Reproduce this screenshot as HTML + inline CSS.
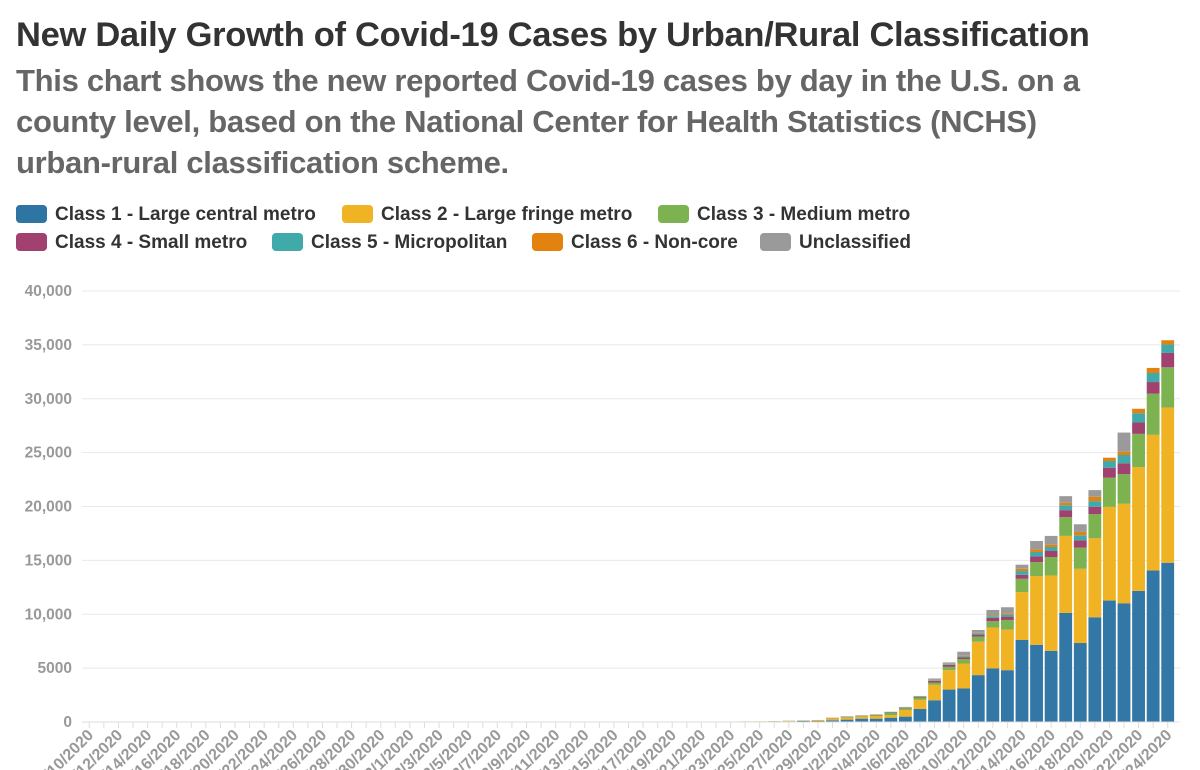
<!DOCTYPE html>
<html><head><meta charset="utf-8"><style>
body{margin:0;background:#fff;width:1200px;height:770px;overflow:hidden;font-family:"Liberation Sans",sans-serif}
#title{position:absolute;left:16px;top:16px;font-size:34.5px;font-weight:bold;color:#333;white-space:nowrap;letter-spacing:-0.3px}
#sub{position:absolute;left:16px;top:60px;font-size:31px;font-weight:bold;color:#666;line-height:41px;white-space:nowrap;letter-spacing:-0.3px}
.leg{position:absolute;font-size:19px;font-weight:bold;color:#333;white-space:nowrap}
.sw{display:inline-block;width:31px;height:18px;border-radius:4px;vertical-align:-3px;margin-right:8px}
</style></head><body>
<div id="title">New Daily Growth of Covid-19 Cases by Urban/Rural Classification</div>
<div id="sub">This chart shows the new reported Covid-19 cases by day in the U.S. on a<br>county level, based on the National Center for Health Statistics (NCHS)<br>urban-rural classification scheme.</div>
<div class="leg" style="left:16px;top:204px"><span class="sw" style="background:#2e75a3"></span>Class 1 - Large central metro</div>
<div class="leg" style="left:342px;top:204px"><span class="sw" style="background:#f0b323"></span>Class 2 - Large fringe metro</div>
<div class="leg" style="left:658px;top:204px"><span class="sw" style="background:#7cb24f"></span>Class 3 - Medium metro</div>
<div class="leg" style="left:16px;top:232px"><span class="sw" style="background:#a0416f"></span>Class 4 - Small metro</div>
<div class="leg" style="left:272px;top:232px"><span class="sw" style="background:#40aaaa"></span>Class 5 - Micropolitan</div>
<div class="leg" style="left:532px;top:232px"><span class="sw" style="background:#e4820f"></span>Class 6 - Non-core</div>
<div class="leg" style="left:760px;top:232px"><span class="sw" style="background:#9a9a9a"></span>Unclassified</div>
<svg id="chart" width="1200" height="770" style="position:absolute;left:0;top:0"></svg>
<script>
const categories=["1/10/2020","1/11/2020","1/12/2020","1/13/2020","1/14/2020","1/15/2020","1/16/2020","1/17/2020","1/18/2020","1/19/2020","1/20/2020","1/21/2020","1/22/2020","1/23/2020","1/24/2020","1/25/2020","1/26/2020","1/27/2020","1/28/2020","1/29/2020","1/30/2020","1/31/2020","2/1/2020","2/2/2020","2/3/2020","2/4/2020","2/5/2020","2/6/2020","2/7/2020","2/8/2020","2/9/2020","2/10/2020","2/11/2020","2/12/2020","2/13/2020","2/14/2020","2/15/2020","2/16/2020","2/17/2020","2/18/2020","2/19/2020","2/20/2020","2/21/2020","2/22/2020","2/23/2020","2/24/2020","2/25/2020","2/26/2020","2/27/2020","2/28/2020","2/29/2020","3/1/2020","3/2/2020","3/3/2020","3/4/2020","3/5/2020","3/6/2020","3/7/2020","3/8/2020","3/9/2020","3/10/2020","3/11/2020","3/12/2020","3/13/2020","3/14/2020","3/15/2020","3/16/2020","3/17/2020","3/18/2020","3/19/2020","3/20/2020","3/21/2020","3/22/2020","3/23/2020","3/24/2020"];
const class1=[0,0,0,0,0,0,0,0,0,0,0,1,0,1,1,0,1,0,0,0,1,1,1,1,0,0,0,0,0,0,0,0,1,0,0,0,0,0,0,0,30,30,30,30,40,50,50,60,60,100,90,155,220,310,310,400,500,1210,2020,3010,3110,4350,4970,4810,7610,7170,6610,10120,7330,9720,11270,11020,12170,14070,14780];
const class2=[0,0,0,0,0,0,0,0,0,0,0,0,0,0,0,0,0,0,0,0,0,0,0,0,0,0,0,0,0,0,0,0,0,0,0,0,0,0,0,0,0,0,5,5,10,10,15,20,40,30,100,155,180,190,250,250,620,840,1430,1800,2320,3100,3790,3760,4440,6370,6990,7150,6890,7330,8700,9230,11490,12580,14410];
const class3=[0,0,0,0,0,0,0,0,0,0,0,0,0,0,0,0,0,0,0,0,0,0,0,0,0,0,0,0,0,0,0,0,0,0,0,0,0,0,0,0,0,0,0,0,0,0,0,10,10,10,0,40,50,40,60,190,150,220,210,310,410,470,590,900,1240,1300,1710,1740,1960,2240,2700,2760,3080,3820,3730];
const class4=[0,0,0,0,0,0,0,0,0,0,0,0,0,0,0,0,0,0,0,0,0,0,0,0,0,0,0,0,0,0,0,0,0,0,0,0,0,0,0,0,0,0,0,0,0,0,0,0,5,5,0,20,30,30,30,30,30,50,160,190,150,190,310,310,370,530,560,650,680,680,930,990,1060,1080,1330];
const class5=[0,0,0,0,0,0,0,0,0,0,0,0,0,0,0,0,0,0,0,0,0,0,0,0,0,0,0,0,0,0,0,0,0,0,0,0,0,0,0,0,0,0,0,0,0,0,0,0,5,5,0,10,20,20,20,60,30,30,50,60,100,120,150,190,350,410,370,460,470,530,620,780,860,840,780];
const class6=[0,0,0,0,0,0,0,0,0,0,0,0,0,0,0,0,0,0,0,0,0,0,0,0,0,0,0,0,0,0,0,0,0,0,0,0,0,0,0,0,0,0,0,0,0,0,0,0,0,0,0,20,30,30,40,20,20,20,40,40,60,50,70,120,210,240,220,220,310,400,310,310,410,470,400];
const unclassified=[0,0,0,0,0,0,0,0,0,0,0,0,0,0,0,0,0,0,0,0,0,0,0,0,0,0,0,0,0,0,0,0,0,0,0,0,0,0,0,0,0,0,0,0,0,0,0,0,0,0,0,0,0,0,0,0,50,50,130,120,370,260,520,560,380,780,810,620,710,620,0,1770,0,0,0];
const yTicks=[0,5000,10000,15000,20000,25000,30000,35000,40000];
const yTickLabels=["0","5000","10,000","15,000","20,000","25,000","30,000","35,000","40,000"];
const series=[class1,class2,class3,class4,class5,class6,unclassified];
const seriesNames=["class-1","class-2","class-3","class-4","class-5","class-6","unclassified"];
const colors=["#3277a5","#f0b323","#7cb24f","#a0416f","#40aaaa","#e4820f","#9a9a9a"];
const NS="http://www.w3.org/2000/svg";
const svg=document.getElementById('chart');
const X0=82,X1=1175,Y0=722,Y1=291,YMAX=40000;
const step=(X1-X0)/categories.length;
const y=v=>Y0-(v/YMAX)*(Y0-Y1);
const xc=i=>X0+(i+0.5)*step;
function mk(t,a){const e=document.createElementNS(NS,t);for(const k in a)e.setAttribute(k,a[k]);svg.appendChild(e);return e;}
yTicks.forEach((v,i)=>{
  const l=mk('line',{x1:X0,x2:1180,y1:y(v),y2:y(v),stroke:'#e8e8e8','stroke-width':1});
  
  
  const t=mk('text',{x:72,y:y(v)+5,'text-anchor':'end','font-size':15.5,'font-weight':'bold',fill:'#999','font-family':'Liberation Sans,sans-serif'});
  t.textContent=yTickLabels[i];
  
  
});
const bw=step*0.88;
categories.forEach((c,i)=>{
  let acc=0;
  series.forEach((s,k)=>{
    const v=s[i]; if(!v)return;
    const r=mk('rect',{x:xc(i)-bw/2,y:y(acc+v),width:bw,height:y(acc)-y(acc+v),fill:colors[k]});
    
    
    acc+=v;
  });
  const tk=mk('line',{x1:xc(i),x2:xc(i),y1:Y0,y2:Y0+6,stroke:'#ddd'});
  
  
  if((categories.length-1-i)%2===0){
    const t=mk('text',{x:0,y:0,'text-anchor':'end','font-size':16,'font-weight':'bold',fill:'#999','font-family':'Liberation Sans,sans-serif',transform:`translate(${xc(i)+5},${Y0+14}) rotate(-45)`});
    t.textContent=c;
    
    
  }
});
const ax=mk('line',{x1:X0,x2:X1+3,y1:Y0,y2:Y0,stroke:'#ddd'});


</script>
</body></html>
